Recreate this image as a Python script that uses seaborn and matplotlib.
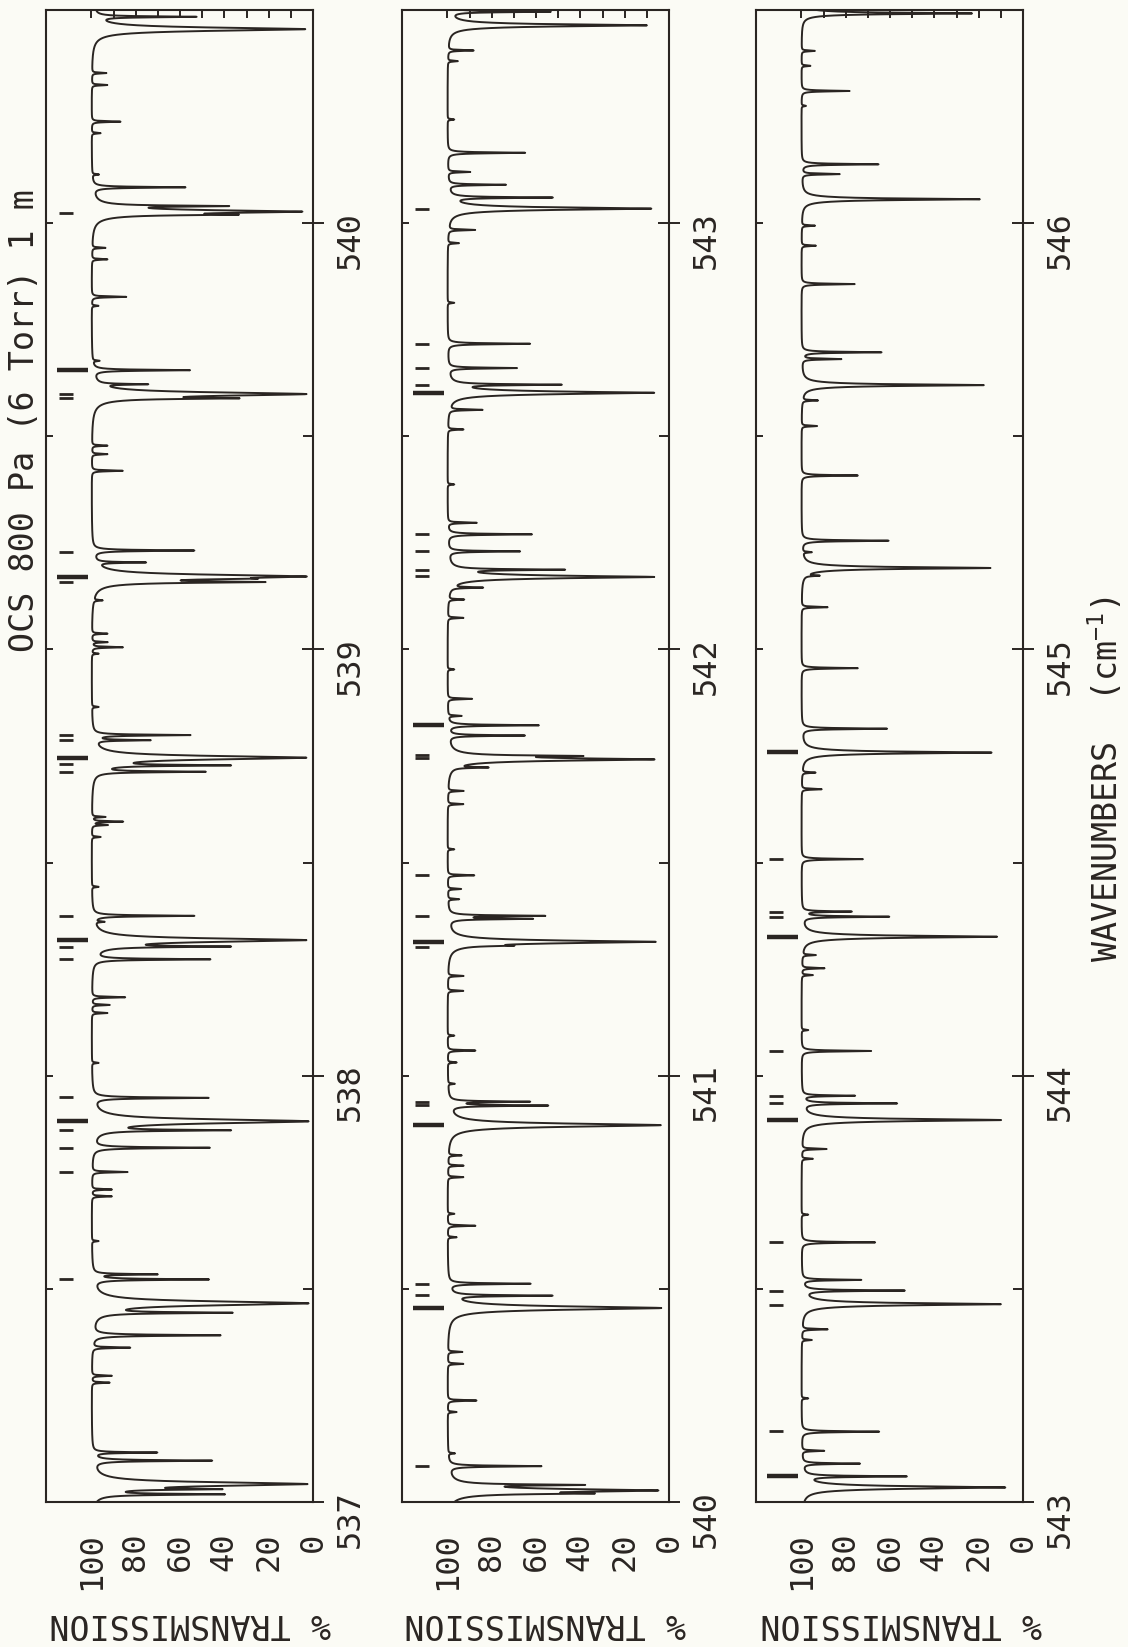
import numpy as np
import pandas as pd
import matplotlib
matplotlib.use("Agg")
import matplotlib.pyplot as plt
from matplotlib.ticker import MultipleLocator, StrMethodFormatter
import seaborn as sns

# absorption lines: centre (cm-1) and transmission at line centre (%)
line_wn = [
    537.018, 537.030, 537.042, 537.097, 537.116, 537.280, 537.296, 537.362, 537.391, 537.444,
    537.466, 537.522, 537.534, 537.612, 537.717, 537.733, 537.774, 537.831, 537.872, 537.893,
    537.948, 538.030, 538.147, 538.166, 538.184, 538.273, 538.303, 538.318, 538.361, 538.375,
    538.443, 538.560, 538.588, 538.596, 538.607, 538.713, 538.728, 538.746, 538.787, 538.799,
    538.865, 538.990, 539.005, 539.017, 539.037, 539.115, 539.158, 539.166, 539.171, 539.204,
    539.232, 539.419, 539.458, 539.478, 539.589, 539.599, 539.622, 539.655, 539.677, 539.806,
    539.827, 539.915, 539.942, 540.020, 540.027, 540.040, 540.084, 540.114, 540.211, 540.238,
    540.324, 540.352, 540.455, 540.484, 540.512, 540.621, 540.648, 540.676, 540.762, 540.789,
    540.813, 540.884, 540.930, 540.939, 540.981, 541.031, 541.059, 541.094, 541.199, 541.234,
    541.305, 541.314, 541.368, 541.375, 541.414, 541.438, 541.470, 541.531, 541.637, 541.668,
    541.723, 541.742, 541.750, 541.798, 541.822, 541.844, 541.884, 541.953, 542.074, 542.117,
    542.145, 542.170, 542.187, 542.230, 542.270, 542.297, 542.387, 542.516, 542.562, 542.602,
    542.621, 542.660, 542.717, 542.813, 542.953, 542.984, 543.034, 543.060, 543.090, 543.120,
    543.165, 543.243, 543.380, 543.405, 543.464, 543.496, 543.521, 543.609, 543.674, 543.805,
    543.828, 543.896, 543.935, 543.953, 544.058, 544.107, 544.236, 544.252, 544.283, 544.326,
    544.373, 544.385, 544.508, 544.672, 544.711, 544.758, 544.814, 544.956, 545.099, 545.173,
    545.191, 545.228, 545.255, 545.408, 545.524, 545.584, 545.620, 545.681, 545.697, 545.857,
    545.947, 545.994, 546.056, 546.115, 546.138, 546.275, 546.310, 546.369, 546.404, 546.492,
]
line_T = [
    42, 49, 2.5, 46, 71, 92, 91, 83, 42, 38.5,
    2, 47.6, 71.4, 97, 91, 91, 84, 47, 39.5, 2,
    47.6, 97, 93, 92, 85, 47, 41, 3, 96, 54,
    97, 96, 93, 86, 94, 50, 40, 3, 75, 56,
    97, 97, 86, 93, 93, 96, 25, 50, 3, 77.4,
    54, 86, 93, 93, 41, 3, 78, 56, 97, 97,
    84.4, 93, 94, 45, 5, 42, 58, 97, 96, 87,
    93, 93.5, 3.5, 54, 63, 96, 87.5, 97, 93, 93,
    94, 3.7, 55.6, 64, 97, 96, 87.5, 97, 93, 93,
    83, 6, 63, 57, 95, 94, 88, 97, 93, 93,
    85, 6.7, 47, 65.5, 59, 94, 89, 97, 93, 93,
    86, 6.7, 49.3, 67.6, 62, 87, 97, 93, 85, 6.7,
    50.4, 69, 62.8, 97, 95, 88, 8, 53.5, 74, 90,
    65, 97, 95.5, 88.5, 10, 54, 73.4, 66.8, 97, 95,
    88.9, 9.9, 57.3, 76.3, 68.6, 97, 95, 89.8, 94, 11.7,
    60.8, 78, 72.3, 91, 94, 14.2, 61.5, 74.6, 88.3, 94,
    14.7, 96, 60.8, 74.6, 93, 93, 17.7, 82.4, 64, 76,
    93.5, 94, 19.5, 83, 65.3, 98, 78.3, 96, 94, 23,
]

# wavenumber range of each strip
panel_lo = [537, 540, 543]
panel_hi = [540.5, 543.5, 546.5]

# line identification marks drawn above the spectrum
marks_thin = [
    [540.024, 539.600, 539.590, 539.229, 539.158, 538.799, 538.787, 538.732, 538.713,
     538.374, 538.303, 538.273, 537.951, 537.872, 537.831, 537.774, 537.522],
    [540.084, 540.486, 540.512, 540.931, 540.939, 541.303, 541.375, 541.470, 541.746,
     541.752, 542.172, 542.187, 542.230, 542.270, 542.621, 542.660, 542.717, 543.033],
    [543.167, 543.463, 543.496, 543.609, 543.937, 543.953, 544.058, 544.373, 544.385, 544.508],
]
marks_thick = [
    [539.655, 539.171, 538.746, 538.318, 537.893],
    [540.455, 540.884, 541.314, 541.822, 542.602],
    [543.060, 543.896, 544.326, 544.760],
]

T_ticks = [0, 20, 40, 60, 80, 100]

W, H = 1128, 1647
BG = "#fbfbf5"
INK = "#2a2522"
CORE_W = 0.0011   # narrow core half width (cm-1)
WING_W = 0.004    # broad wing half width, only noticeable for strong lines
WING_K = 0.11

sns.set_theme(style="white")
plt.rcParams["font.family"] = ["DejaVu Sans Mono", "DejaVu Sans"]
plt.rcParams["mathtext.fontset"] = "custom"
plt.rcParams["mathtext.rm"] = "DejaVu Sans Mono"
plt.rcParams["mathtext.default"] = "regular"


def lorentz(d, w):
    return w ** 2 / (d ** 2 + w ** 2)


def spectrum(lo, hi):
    centres = np.array(line_wn)
    depth = -np.log(np.array(line_T) / 100.0)
    wing = WING_K * depth ** 2
    core = depth - wing
    grid = np.union1d(np.arange(lo, hi + 1e-9, 0.0002), centres[(centres >= lo) & (centres <= hi)])
    d = grid[:, None] - centres[None, :]
    absorb = (core[None, :] * lorentz(d, CORE_W) + wing[None, :] * lorentz(d, WING_W)).sum(axis=1)
    return pd.DataFrame({"wavenumber": grid, "transmission": 100 * np.exp(-absorb)})


fig = plt.figure(figsize=(W / 100, H / 100), dpi=100, facecolor=BG)
lefts = [46, 402, 756]
label_centres = [190, 545, 901]

for i in range(3):
    ax = fig.add_axes([lefts[i] / W, 1 - 1502 / H, 267 / W, 1492 / H], facecolor=BG)
    df = spectrum(panel_lo[i], panel_hi[i])
    sns.lineplot(data=df, x="transmission", y="wavenumber", sort=False, estimator=None,
                 orient="y", color=INK, linewidth=1.4, ax=ax)
    ax.hlines(marks_thin[i], 114.7, 108.4, color=INK, lw=2)
    ax.hlines(marks_thick[i], 115.6, 101.7, color=INK, lw=3.2)

    ax.set_xlim(120.5, 0)
    ax.set_ylim(panel_lo[i], panel_hi[i])
    ax.set_xlabel("")
    ax.set_ylabel("")
    for sp in ax.spines.values():
        sp.set_color(INK)
        sp.set_linewidth(1.5)

    # transmission axis (bottom)
    ax.set_xticks(T_ticks)
    ax.set_xticks(range(10, 100, 20), minor=True)
    ax.tick_params(axis="x", which="major", direction="inout", length=22, width=1.4,
                   labelrotation=90, pad=11, labelsize=23, colors=INK)
    ax.tick_params(axis="x", which="minor", direction="in", length=11, width=1.4, colors=INK)
    top = ax.secondary_xaxis("top")
    top.set_xticks(range(10, 101, 10))
    top.tick_params(direction="in", length=6, width=1.4, labeltop=False, colors=INK)
    top.spines["top"].set_visible(False)

    # wavenumber axis (right)
    ax.yaxis.tick_right()
    ax.yaxis.set_major_locator(MultipleLocator(1))
    ax.yaxis.set_minor_locator(MultipleLocator(0.5))
    ax.yaxis.set_major_formatter(StrMethodFormatter("{x:.0f}"))
    ax.tick_params(axis="y", which="major", direction="inout", length=16, width=1.4,
                   labelrotation=90, pad=8, labelsize=23, colors=INK)
    ax.tick_params(axis="y", which="minor", direction="in", length=7, width=1.4, colors=INK)
    left = ax.secondary_yaxis("left")
    left.yaxis.set_major_locator(MultipleLocator(0.5))
    left.tick_params(direction="in", length=5, width=1.4, labelleft=False, colors=INK)
    left.spines["left"].set_visible(False)

    fig.text(label_centres[i] / W, 1 - 1623 / H, "% TRANSMISSION", rotation=180,
             ha="center", va="center", fontsize=24, color=INK)

fig.text(25 / W, 1 - 421 / H, "OCS 800 Pa (6 Torr) 1 m", rotation=90,
         ha="center", va="center", fontsize=24, color=INK)
fig.text(1106 / W, 1 - 779 / H, "WAVENUMBERS  (cm$^{-1}$)", rotation=90,
         ha="center", va="center", fontsize=24, color=INK)

fig.savefig("out.png", dpi=100, facecolor=BG)
